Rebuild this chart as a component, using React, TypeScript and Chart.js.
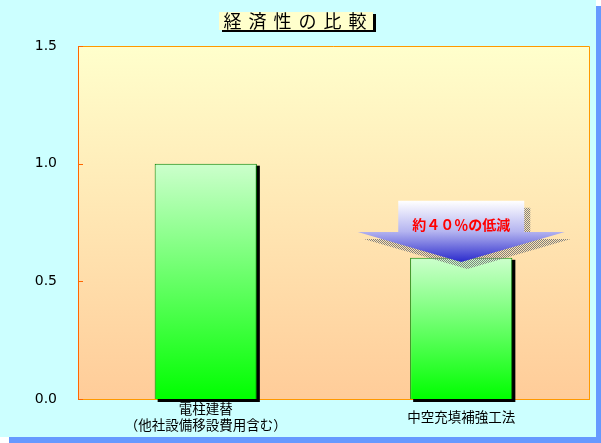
import React, { useEffect, useRef } from 'react'
import { Chart, registerables } from 'chart.js'

Chart.register(...registerables)

const categories = [['電柱建替', '（他社設備移設費用含む）'], '中空充填補強工法']
const costValues = [1.0, 0.6]
const yTicks = [0, 0.5, 1.0, 1.5]
const chartTitle = '経済性の比較'
const arrowLabel = '約４０％の低減'

// arrow annotation, in value units on the y scale
const arrowIndex = 1
const arrowTop = 0.842
const arrowWing = 0.71
const arrowTip = 0.582
const arrowTextAt = 0.74

const checker = () => {
	const c = document.createElement('canvas')
	c.width = 2
	c.height = 2
	const g = c.getContext('2d')!
	g.fillStyle = '#808080'
	g.fillRect(0, 0, 1, 1)
	g.fillRect(1, 1, 1, 1)
	return c
}

const decorPlugin = {
	id: 'decor',
	beforeDraw(chart: any) {
		const { ctx, width, height, chartArea: a } = chart
		ctx.save()
		ctx.fillStyle = '#6699FF'
		ctx.fillRect(9, 6, width - 9, height - 6)
		ctx.fillStyle = '#CCFFFF'
		ctx.fillRect(0, 0, width - 5, height - 6)
		const g = ctx.createLinearGradient(0, a.top, 0, a.bottom)
		g.addColorStop(0, '#FFFFCC')
		g.addColorStop(1, '#FFCC99')
		ctx.fillStyle = g
		ctx.fillRect(a.left, a.top, a.right - a.left, a.bottom - a.top)
		ctx.restore()
	},
	beforeDatasetsDraw(chart: any) {
		const { ctx } = chart
		ctx.save()
		ctx.fillStyle = '#000'
		chart.getDatasetMeta(0).data.forEach((bar: any) => {
			const { x, y, base, width } = bar.getProps(['x', 'y', 'base', 'width'], true)
			ctx.fillRect(x - width / 2 + 3, y + 2, width, base - y + 1)
		})
		ctx.restore()
	},
	afterDatasetsDraw(chart: any) {
		const { ctx, chartArea: a } = chart
		const xs = chart.scales.x
		const ys = chart.scales.y
		ctx.save()

		// plot frame top / right, inner ticks
		ctx.lineWidth = 1
		ctx.strokeStyle = '#FF9900'
		ctx.beginPath()
		ctx.moveTo(a.left, a.top + 0.5)
		ctx.lineTo(a.right + 0.5, a.top + 0.5)
		ctx.lineTo(a.right + 0.5, a.bottom)
		ctx.stroke()
		ctx.strokeStyle = '#FF6600'
		yTicks.forEach((v) => {
			const py = Math.round(ys.getPixelForValue(v)) + 0.5
			ctx.beginPath()
			ctx.moveTo(a.left, py)
			ctx.lineTo(a.left + 5, py)
			ctx.stroke()
		})

		// arrow
		const cx = xs.getPixelForValue(arrowIndex)
		const yTop = ys.getPixelForValue(arrowTop)
		const yWing = ys.getPixelForValue(arrowWing)
		const yTip = ys.getPixelForValue(arrowTip)
		const shaft = 63
		const head = 103.5
		const path = (dx: number, dy: number) => {
			ctx.beginPath()
			ctx.moveTo(cx - shaft + dx, yTop + dy)
			ctx.lineTo(cx + shaft + dx, yTop + dy)
			ctx.lineTo(cx + shaft + dx, yWing + dy)
			ctx.lineTo(cx + head + dx, yWing + dy)
			ctx.lineTo(cx + dx, yTip + dy)
			ctx.lineTo(cx - head + dx, yWing + dy)
			ctx.lineTo(cx - shaft + dx, yWing + dy)
			ctx.closePath()
		}
		path(6, 7)
		ctx.fillStyle = ctx.createPattern(checker(), 'repeat')
		ctx.fill()
		path(0, 0)
		const g = ctx.createLinearGradient(0, yTop, 0, yTip)
		g.addColorStop(0, '#FFFFFF')
		g.addColorStop(0.5, '#B4B4F0')
		g.addColorStop(1, '#2A2ACC')
		ctx.fillStyle = g
		ctx.fill()

		ctx.font = 'bold 14px "Noto Sans CJK JP"'
		ctx.fillStyle = '#FF0000'
		ctx.textAlign = 'center'
		ctx.textBaseline = 'middle'
		ctx.fillText(arrowLabel, cx, ys.getPixelForValue(arrowTextAt))
		ctx.restore()
	},
	afterDraw(chart: any) {
		const { ctx } = chart
		ctx.save()
		ctx.fillStyle = '#000'
		ctx.fillRect(222, 14, 154, 18)
		ctx.fillStyle = '#FFFFCC'
		ctx.fillRect(219, 12, 154, 18)
		ctx.font = '18px "Noto Sans CJK JP"'
		ctx.letterSpacing = '7px'
		ctx.fillStyle = '#000'
		ctx.textAlign = 'left'
		ctx.textBaseline = 'middle'
		const w = ctx.measureText(chartTitle).width - 7
		ctx.fillText(chartTitle, 295 - w / 2, 21.5)
		ctx.restore()
	},
}

const App: React.FC = () => {
	const chartRef = useRef<HTMLCanvasElement>(null)

	useEffect(() => {
		if (!chartRef.current) return
		const context = chartRef.current.getContext('2d')
		if (!context) return

		const chart = new Chart(context, {
			type: 'bar',
			data: {
				labels: categories,
				datasets: [
					{
						data: costValues,
						backgroundColor: (c: any) => {
							const ys = c.chart.scales?.y
							if (!ys || !c.chart.chartArea) return '#33FF33'
							const top = ys.getPixelForValue(c.raw)
							const bottom = ys.getPixelForValue(0)
							if (!isFinite(top) || !isFinite(bottom)) return '#33FF33'
							const g = c.chart.ctx.createLinearGradient(0, top, 0, bottom)
							g.addColorStop(0, '#CCFFCC')
							g.addColorStop(1, '#00FF00')
							return g
						},
						borderColor: '#008000',
						borderWidth: 1,
						barPercentage: 0.4,
						categoryPercentage: 1.0,
					},
				],
			},
			options: {
				responsive: false,
				animation: false,
				layout: { padding: { top: 46, right: 12, left: 0, bottom: 0 } },
				plugins: {
					legend: { display: false },
					title: { display: false },
					tooltip: { enabled: false },
				},
				scales: {
					x: {
						grid: { display: false, drawTicks: false },
						border: { display: true, color: '#FF9900' },
						ticks: {
							color: '#000',
							padding: 10,
							maxRotation: 0,
							autoSkip: false,
							crossAlign: 'center',
							font: { family: '"Noto Sans CJK JP"', size: 13.5, lineHeight: 1.19 },
						},
						afterFit: (s: any) => {
							s.height = 44
						},
					},
					y: {
						min: 0,
						max: 1.5,
						grid: { display: false, drawTicks: false },
						border: { display: true, color: '#FF6600' },
						ticks: {
							stepSize: 0.5,
							color: '#000',
							padding: 21,
							font: { family: '"DejaVu Sans"', size: 14 },
							callback: (v: any) => Number(v).toFixed(1),
						},
						afterFit: (s: any) => {
							s.width = 78
						},
					},
				},
			},
			plugins: [decorPlugin],
		})

		return () => {
			chart.destroy()
		}
	}, [])

	return (
		<div style={{ position: 'fixed', left: 0, top: 0, width: 601, height: 443 }}>
			<canvas ref={chartRef} width={601} height={443} />
		</div>
	)
}

export default App
